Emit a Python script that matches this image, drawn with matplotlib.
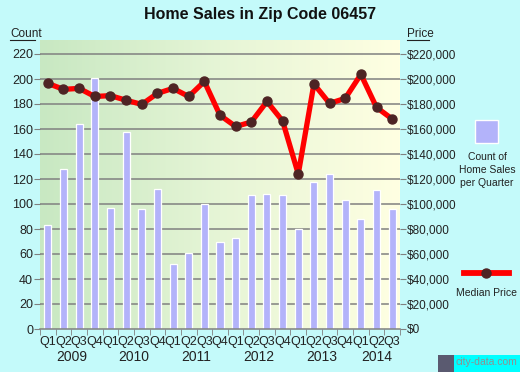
"""
Home sales / median price chart for zip code 06457 (city-data style).
"""

import numpy as np
import matplotlib
matplotlib.use("Agg")
import matplotlib.pyplot as plt
from matplotlib.colors import LinearSegmentedColormap
from matplotlib.lines import Line2D
from matplotlib.patches import Rectangle

# quarters 2009 Q1 .. 2014 Q3
quarters = ["Q1", "Q2", "Q3", "Q4"] * 5 + ["Q1", "Q2", "Q3"]
years = ["2009", "2010", "2011", "2012", "2013", "2014"]
sales_count = [83, 128, 164, 201, 97, 158, 96, 112, 52, 61, 100, 70,
               73, 107, 108, 107, 80, 118, 124, 103, 88, 111, 96]
median_price = [196500, 191700, 192500, 186000, 186700, 183000, 179700, 188500,
                192500, 186000, 198000, 171000, 162000, 165600, 182000, 166400,
                124000, 196000, 180500, 184500, 203700, 177300, 168000]
count_ticks = [0, 20, 40, 60, 80, 100, 120, 140, 160, 180, 200, 220]

BG = "#c4fafa"
W, H = 520, 372


def fx(px):
    return px / W


def fy(py):
    return 1 - py / H


plt.rcParams["font.family"] = ["Liberation Sans", "DejaVu Sans"]

fig = plt.figure(figsize=(5.2, 3.72), dpi=100, facecolor=BG)
ax = fig.add_axes([fx(40), fy(329), fx(400) - fx(40), fy(40) - fy(329)])
ax2 = ax.twinx()

n = len(sales_count)
x = np.arange(n)
ymax = 231.2
ax.set_xlim(-0.5, n - 0.5)
ax.set_ylim(0, ymax)
ax2.set_ylim(0, ymax * 1000)

# background gradient green -> light yellow
cmap = LinearSegmentedColormap.from_list("bg", ["#c8e8c2", "#e6f5d6", "#ffffe2"])
grad = np.linspace(0, 1, 256).reshape(1, -1)
ax.imshow(grad, cmap=cmap, aspect="auto", extent=[-0.5, n - 0.5, 0, ymax], zorder=0)

for t in count_ticks[1:]:
    ax.axhline(t, color="#808080", linewidth=1.1, zorder=1)

ax.bar(x, sales_count, width=0.45, color="#b3b3fa", edgecolor="white",
       linewidth=0.9, zorder=2)

ax2.plot(x, median_price, color="#ff0000", linewidth=3.8, zorder=3,
         solid_joinstyle="round")
ax2.plot(x, median_price, "o", color="#4e2424", markersize=6.5, zorder=4)

# axes styling
for a in (ax, ax2):
    for s in ["top", "left", "right"]:
        a.spines[s].set_visible(False)
ax.spines["bottom"].set_color("#808080")
ax.spines["bottom"].set_linewidth(1.1)
ax2.spines["bottom"].set_visible(False)

ax.set_yticks(count_ticks)
ax.tick_params(axis="y", length=4, color="#808080", labelsize=9, pad=1,
               labelcolor="#222222")
ax2.set_yticks([t * 1000 for t in count_ticks])
ax2.set_yticklabels([f"${t * 1000:,}" for t in count_ticks])
ax2.tick_params(axis="y", length=4, color="#808080", labelsize=8.5, pad=1,
                labelcolor="#222222")

ax.set_xticks(x)
ax.set_xticklabels(quarters)
ax.set_xticks(np.arange(-0.5, n, 1), minor=True)
ax.tick_params(axis="x", which="major", length=0, labelsize=9, pad=5,
               labelcolor="#222222")
ax.tick_params(axis="x", which="minor", length=4, color="#808080")

# year labels under the quarters
for i, yr in enumerate(years):
    start = i * 4
    end = min(start + 3, n - 1)
    ax.text((start + end) / 2, -0.097, yr, transform=ax.get_xaxis_transform(),
            ha="center", va="center", fontsize=10, color="#222222")

# title and axis captions
fig.text(0.5, fy(15), "Home Sales in Zip Code 06457", ha="center", va="center",
         fontsize=11.5, fontweight="bold", color="#111111")
fig.text(fx(10), fy(34), "Count", ha="left", va="center", fontsize=8.5, color="#222222")
fig.add_artist(Line2D([fx(10), fx(35)], [fy(40), fy(40)], color="#222222", linewidth=0.8))
fig.text(fx(407), fy(34), "Price", ha="left", va="center", fontsize=8.5, color="#222222")
fig.add_artist(Line2D([fx(407), fx(429)], [fy(40), fy(40)], color="#222222", linewidth=0.8))

# legend on the right
fig.add_artist(Rectangle((fx(475), fy(143)), fx(498) - fx(475), fy(120) - fy(143),
                         facecolor="#b3b3fa", edgecolor="white", linewidth=1,
                         transform=fig.transFigure))
fig.text(fx(487), fy(170), "Count of\nHome Sales\nper Quarter", ha="center",
         va="center", fontsize=7.5, color="#222222", linespacing=1.35)
fig.add_artist(Line2D([fx(464), fx(509)], [fy(273), fy(273)], color="#ff0000",
                      linewidth=4.2))
fig.add_artist(Line2D([fx(486)], [fy(273)], marker="o", color="#4e2424",
                      markersize=6.5))
fig.text(fx(487), fy(293), "Median Price", ha="center", va="center",
         fontsize=7.5, color="#222222")

# watermark
fig.add_artist(Rectangle((fx(438), fy(372)), fx(520) - fx(438), fy(355) - fy(372),
                         facecolor="#5a5a70", edgecolor="none",
                         transform=fig.transFigure))
fig.add_artist(Rectangle((fx(454), fy(372)), fx(520) - fx(454), fy(355) - fy(372),
                         facecolor="#00ffff", edgecolor="none",
                         transform=fig.transFigure))
fig.text(fx(456), fy(362), "city-data.com", ha="left", va="center",
         fontsize=7.5, color="#909090")

fig.savefig("out.png", dpi=100, facecolor=BG)
